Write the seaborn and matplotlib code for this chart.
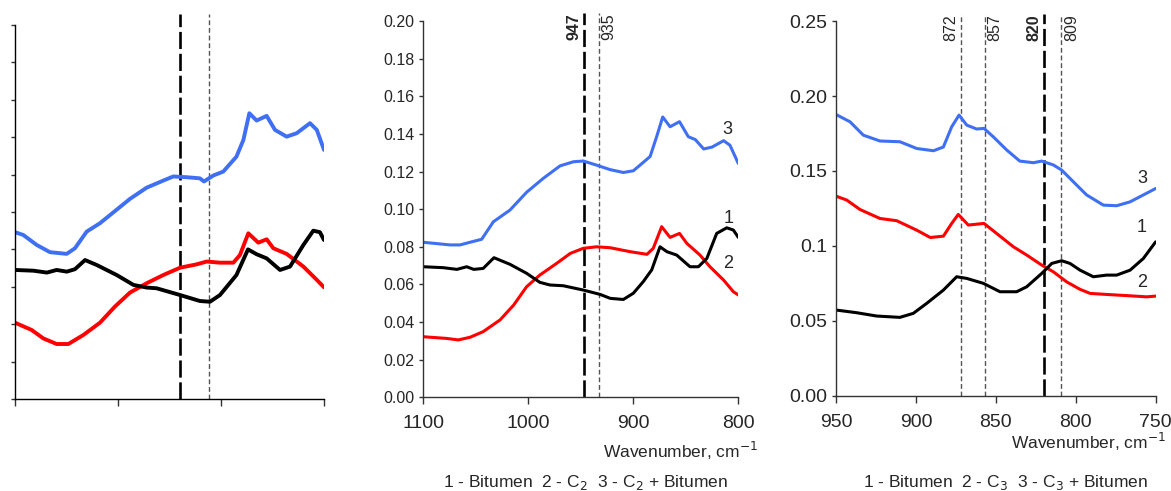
import numpy as np
import pandas as pd
import matplotlib.pyplot as plt
import seaborn as sns

sns.set_style("ticks")
plt.rcParams['font.family'] = ['Liberation Sans', 'DejaVu Sans']

# ---- left panel (cropped, no tick labels) ----
left_wn_bit = [1100, 1082, 1069, 1059.6, 1049.8, 1041.8, 1032, 1020.8, 1001.3, 985, 972.2, 962.5, 939.8, 920.5,
               910.7, 901, 885, 873.8, 865.4, 855.7, 842.7, 833, 820, 810.4, 804, 800]
left_bit = [0.069, 0.0686, 0.0676, 0.069, 0.0681, 0.0694, 0.0743, 0.0717, 0.0663, 0.061, 0.0596, 0.0592, 0.0556,
            0.0524, 0.052, 0.0556, 0.0663, 0.080, 0.0774, 0.0752, 0.069, 0.0708, 0.0824, 0.090, 0.0892, 0.085]
left_wn_c = [1100, 1083.8, 1072.5, 1059.6, 1048.2, 1033.7, 1017.5, 1003, 988.4, 972.2, 956, 939.8, 923.7, 913.9,
             901, 888, 881.6, 873.5, 863.8, 855.7, 849.2, 836.3, 820, 807, 800]
left_c = [0.0408, 0.0369, 0.0324, 0.0294, 0.0294, 0.0342, 0.0408, 0.0494, 0.0569, 0.0619, 0.0663, 0.0702, 0.072,
          0.0735, 0.0729, 0.0729, 0.077, 0.0886, 0.0836, 0.0854, 0.0806, 0.0776, 0.0708, 0.0637, 0.0597]
left_wn_cbit = [1100, 1091.9, 1079, 1066, 1049.8, 1041.8, 1030.4, 1017.5, 1004.5, 988.4, 972.2, 956, 946.3, 933.4,
                920.5, 916.5, 907.5, 897.8, 885, 878.3, 872.5, 865.4, 855.7, 847.6, 836.3, 826.6, 813.6, 807, 800]
left_cbit = [0.0892, 0.0877, 0.0824, 0.0785, 0.0776, 0.0806, 0.0895, 0.094, 0.0998, 0.107, 0.113, 0.1168, 0.119,
             0.1186, 0.118, 0.1163, 0.1195, 0.1216, 0.1296, 0.1385, 0.1528, 0.1489, 0.1514, 0.1439, 0.1403, 0.1421,
             0.1475, 0.1439, 0.1332]
left_marks = [940, 912]

# ---- middle panel: C2 ----
mid_wn_bit = [1100, 1081, 1068, 1058.7, 1052, 1043, 1032.7, 1017.5, 1001.6, 989, 979.4, 966.7, 947.6, 931.7, 922,
              909.5, 900, 890.5, 882.5, 874.6, 868, 858.7, 846, 838, 830, 820.6, 811, 804.7, 800]
mid_bit = [0.0694, 0.0689, 0.068, 0.0694, 0.068, 0.0685, 0.0742, 0.0707, 0.0659, 0.0611, 0.0597, 0.0593, 0.057,
           0.0547, 0.0526, 0.052, 0.0553, 0.0615, 0.0677, 0.080, 0.0774, 0.0756, 0.0694, 0.0694, 0.0738, 0.0871,
           0.0901, 0.0889, 0.085]
mid_wn_c = [1100, 1077.8, 1066.7, 1055.6, 1043, 1027, 1014, 1001.6, 989, 973, 960, 947.6, 935, 922, 903, 887, 881,
            873, 865, 856, 849, 836.5, 827, 814, 804.7, 800]
mid_c = [0.0322, 0.0313, 0.0305, 0.0319, 0.0349, 0.0411, 0.049, 0.0588, 0.065, 0.0712, 0.0765, 0.0792, 0.080, 0.0795,
         0.0774, 0.076, 0.0792, 0.0907, 0.085, 0.0871, 0.0818, 0.0756, 0.0694, 0.0623, 0.0561, 0.0544]
mid_wn_cbit = [1100, 1074.6, 1065, 1055.6, 1044.4, 1033.3, 1017.5, 1001.6, 985.7, 969.8, 957, 947.6, 935, 922, 909.5,
               900, 893.6, 884, 877.8, 872, 865, 856, 847.6, 841, 833, 825, 814, 808, 800]
mid_cbit = [0.0824, 0.081, 0.081, 0.0824, 0.084, 0.0933, 0.0995, 0.109, 0.1164, 0.123, 0.1252, 0.1256, 0.1234, 0.121,
            0.1195, 0.1204, 0.1234, 0.128, 0.1385, 0.149, 0.1438, 0.1465, 0.1385, 0.137, 0.132, 0.133, 0.1364,
            0.134, 0.1243]
mid_marks = [947, 933]
mid_mark_labels = ['947', '935']

# ---- right panel: C3 ----
right_wn_bit = [950, 937, 924.6, 910, 901.6, 893.3, 882.8, 874.5, 868.2, 857.8, 847.4, 837, 830.7, 821.3, 815, 808.8,
                803.6, 797.3, 789, 780.7, 774.4, 766, 757.7, 750]
right_bit = [0.0572, 0.0554, 0.0532, 0.0523, 0.055, 0.0616, 0.0705, 0.0794, 0.0783, 0.075, 0.0694, 0.0694, 0.0727,
             0.0816, 0.0883, 0.0901, 0.0883, 0.0838, 0.0794, 0.0805, 0.0805, 0.0838, 0.0916, 0.1027]
right_wn_c = [950, 943.3, 935, 922.5, 912, 899.5, 891, 882.8, 877.6, 873.5, 867.2, 857.4, 849.5, 839, 830.7, 821.3,
              814, 805.7, 797.3, 791, 780.7, 766, 755.6, 750]
right_c = [0.1332, 0.1306, 0.1243, 0.1183, 0.1168, 0.1105, 0.1056, 0.1065, 0.115, 0.121, 0.1139, 0.115, 0.1083,
           0.0994, 0.0939, 0.0872, 0.0827, 0.076, 0.071, 0.0683, 0.0676, 0.0667, 0.066, 0.0665]
right_wn_cbit = [950, 941.2, 932.9, 922.5, 910, 899.5, 889, 882.8, 877.6, 873, 868.2, 862, 857.4, 851.6, 843.2, 835,
                 826.5, 821.3, 814, 808.8, 801.5, 793.2, 782.7, 774.4, 766, 757.7, 750]
right_cbit = [0.1877, 0.1828, 0.1739, 0.170, 0.1695, 0.165, 0.1635, 0.166, 0.1795, 0.1873, 0.1806, 0.178, 0.1784,
              0.1728, 0.164, 0.1566, 0.1555, 0.1566, 0.154, 0.1506, 0.1428, 0.134, 0.1272, 0.1268, 0.1294, 0.134,
              0.1383]
right_marks = [872, 857, 820, 809]
right_yticks = [0.00, 0.05, 0.10, 0.15, 0.20, 0.25]
right_yticklabels = ['0.00', '0.05', '0.1', '0.15', '0.20', '0.25']

BLUE = '#3f6ff2'
RED = '#ff0000'
BLACK = '#000000'

fig = plt.figure(figsize=(11.71, 4.91), dpi=100)
ax_l = fig.add_axes([0.0128, 0.1874, 0.2639, 0.7617])
ax_m = fig.add_axes([0.3615, 0.1908, 0.269, 0.7664])
ax_r = fig.add_axes([0.7139, 0.194, 0.273, 0.763])


def draw_curves(ax, data, lw):
    for wn, vals, col in data:
        sns.lineplot(x=wn, y=vals, ax=ax, color=col, lw=lw, sort=False, estimator=None)


def thick_mark(ax, x, top):
    ax.axvline(x, ymin=0, ymax=top, color='black', lw=1.9, ls=(0, (6.5, 1.8)), clip_on=False, zorder=1)


def thin_mark(ax, x, top):
    ax.axvline(x, ymin=0, ymax=top, color='#555555', lw=1.0, ls=(0, (3.5, 2)), clip_on=False, zorder=1)


def style_axes(ax):
    sns.despine(ax=ax)
    for s in ['left', 'bottom']:
        ax.spines[s].set_color('#333333')
        ax.spines[s].set_linewidth(1.0)
    ax.tick_params(axis='y', length=3, width=1, color='#333333')
    ax.tick_params(axis='x', length=5, width=1, color='#333333')
    ax.set_xlabel('')
    ax.set_ylabel('')


# left
draw_curves(ax_l, [(left_wn_cbit, left_cbit, BLUE), (left_wn_c, left_c, RED), (left_wn_bit, left_bit, BLACK)], 2.8)
ax_l.set_xlim(1100, 800)
ax_l.set_ylim(0, 0.20)
ax_l.set_xticks([1100, 1000, 900, 800])
ax_l.set_yticks(np.arange(0, 0.201, 0.02))
ax_l.set_xticklabels([])
ax_l.set_yticklabels([])
style_axes(ax_l)
ax_l.spines['left'].set_color('black')
ax_l.spines['bottom'].set_color('black')
thick_mark(ax_l, left_marks[0], 1.029)
thin_mark(ax_l, left_marks[1], 1.029)

# middle
draw_curves(ax_m, [(mid_wn_cbit, mid_cbit, BLUE), (mid_wn_c, mid_c, RED), (mid_wn_bit, mid_bit, BLACK)], 2.2)
ax_m.set_xlim(1100, 800)
ax_m.set_ylim(0, 0.20)
ax_m.set_xticks([1100, 1000, 900, 800])
ax_m.set_yticks(np.arange(0, 0.201, 0.02))
ax_m.set_yticklabels([f'{v:.2f}' for v in np.arange(0, 0.201, 0.02)])
style_axes(ax_m)
ax_m.tick_params(axis='y', labelsize=11.5)
ax_m.tick_params(axis='x', labelsize=14, pad=8)
thick_mark(ax_m, mid_marks[0], 1.021)
thin_mark(ax_m, mid_marks[1], 1.021)
tr = ax_m.get_xaxis_transform()
ax_m.text(mid_marks[0] + 2, 1.02, mid_mark_labels[0], rotation=90, ha='right', va='top', fontsize=11.5,
          fontweight='bold', transform=tr)
ax_m.text(mid_marks[1] - 2, 1.02, mid_mark_labels[1], rotation=90, ha='left', va='top', fontsize=11.5, transform=tr)
ax_m.text(810, 0.1424, '3', fontsize=13, ha='center', va='center')
ax_m.text(809.5, 0.0951, '1', fontsize=13, ha='center', va='center')
ax_m.text(810, 0.0712, '2', fontsize=13, ha='center', va='center')

# right
draw_curves(ax_r, [(right_wn_cbit, right_cbit, BLUE), (right_wn_c, right_c, RED),
                   (right_wn_bit, right_bit, BLACK)], 2.2)
ax_r.set_xlim(950, 750)
ax_r.set_ylim(0, 0.25)
ax_r.set_xticks([950, 900, 850, 800, 750])
ax_r.set_yticks(right_yticks)
ax_r.set_yticklabels(right_yticklabels)
style_axes(ax_r)
ax_r.tick_params(axis='y', labelsize=14)
ax_r.tick_params(axis='x', labelsize=14, pad=8)
tr = ax_r.get_xaxis_transform()
for x in right_marks:
    if x == 820:
        thick_mark(ax_r, x, 1.018)
    else:
        thin_mark(ax_r, x, 1.018)
ax_r.text(872 + 1.5, 1.018, '872', rotation=90, ha='right', va='top', fontsize=11.5, transform=tr)
ax_r.text(857 - 1.5, 1.018, '857', rotation=90, ha='left', va='top', fontsize=11.5, transform=tr)
ax_r.text(820 + 1.5, 1.018, '820', rotation=90, ha='right', va='top', fontsize=11.5, fontweight='bold', transform=tr)
ax_r.text(809 - 1.5, 1.018, '809', rotation=90, ha='left', va='top', fontsize=11.5, transform=tr)
ax_r.text(758.3, 0.145, '3', fontsize=13, ha='center', va='center')
ax_r.text(758.8, 0.112, '1', fontsize=13, ha='center', va='center')
ax_r.text(758.3, 0.0754, '2', fontsize=13, ha='center', va='center')

# axis titles and captions
fig.text(0.515, 0.0815, 'Wavenumber, cm$^{-1}$', fontsize=12.5, ha='left', va='center')
fig.text(0.996, 0.1004, 'Wavenumber, cm$^{-1}$', fontsize=12.5, ha='right', va='center')
fig.text(0.378, 0.0163, '1 - Bitumen  2 - C$_2$  3 - C$_2$ + Bitumen', fontsize=12.5, ha='left', va='center')
fig.text(0.737, 0.018, '1 - Bitumen  2 - C$_3$  3 - C$_3$ + Bitumen', fontsize=12.5, ha='left', va='center')

fig.savefig('out.png', dpi=100)
